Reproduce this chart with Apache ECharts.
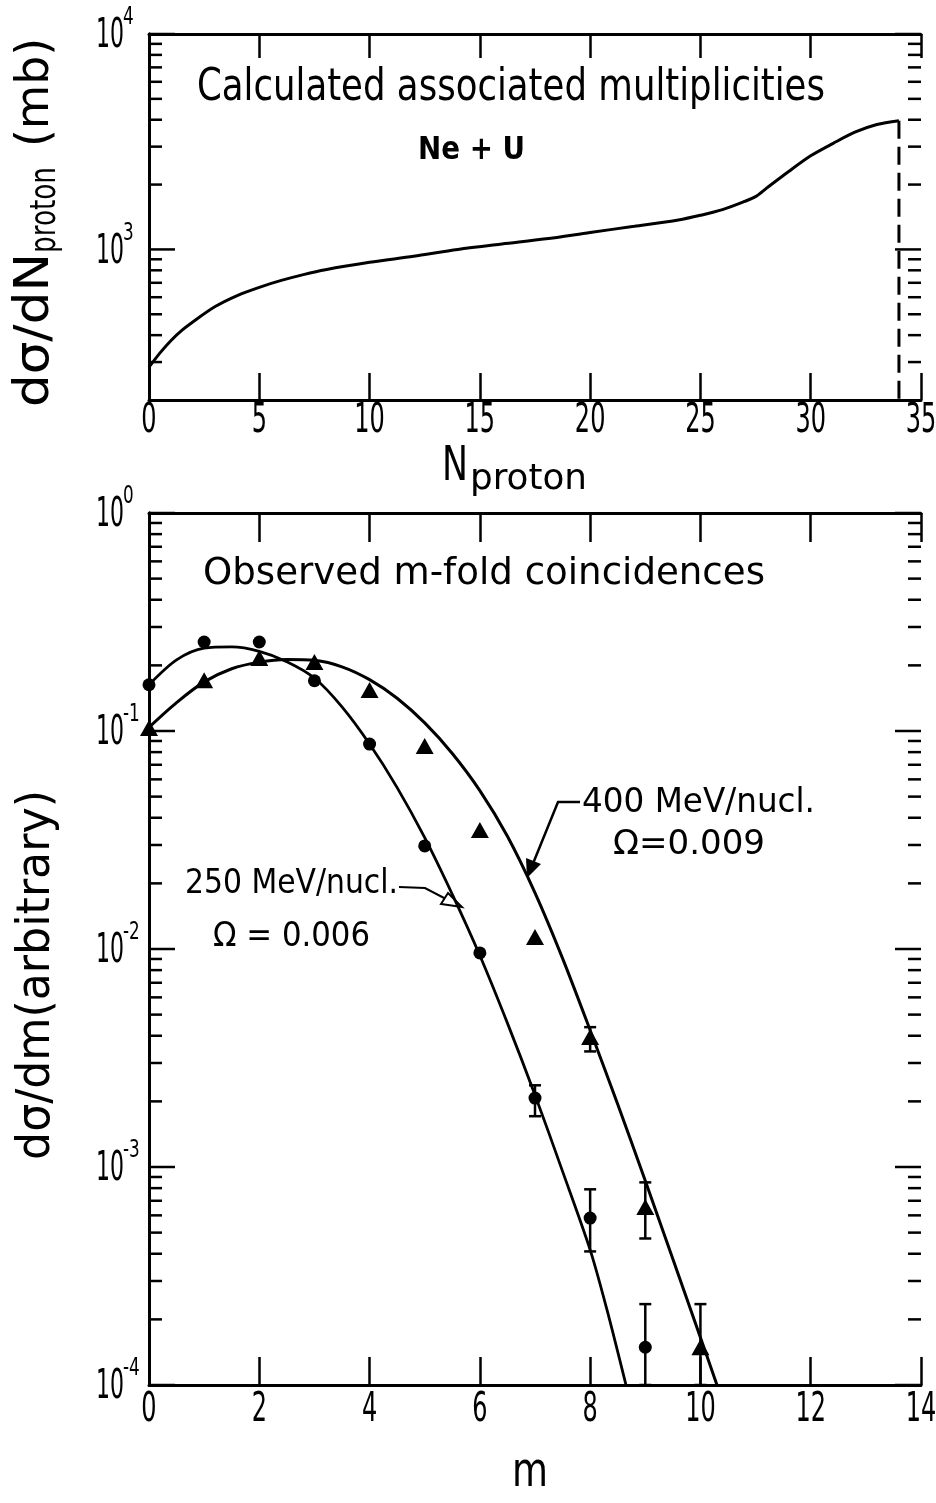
<!DOCTYPE html>
<html><head><meta charset="utf-8">
<script src="https://cdn.jsdelivr.net/npm/echarts@6/dist/echarts.min.js"></script>
<style>html,body{margin:0;padding:0;background:#fff}#c{width:936px;height:1503px}</style>
</head><body><div id="c"></div>
<script>
// ---------- Top panel: calculated associated multiplicities (Ne + U) ----------
const topN     = [0, 0.5, 1, 1.5, 2, 3, 4, 5, 6, 7, 8, 10, 12, 14, 16, 18, 20, 22, 24, 25, 26, 27, 27.5, 28, 29, 30, 31, 32, 33, 34];
const topSigma = [284, 331, 378, 422, 462, 543, 611, 667, 718, 764, 805, 871, 930, 1000, 1060, 1120, 1199, 1280, 1370, 1440, 1530, 1670, 1758, 1925, 2300, 2720, 3100, 3500, 3800, 3960];
const topCutoffN = 34;
const topXTicks  = [0, 5, 10, 15, 20, 25, 30, 35];
const topYTicks  = [300, 400, 500, 600, 700, 800, 900, 1000, 2000, 3000, 4000, 5000, 6000, 7000, 8000, 9000, 10000];
const topYLabels = [1000, 10000];

// ---------- Bottom panel: observed m-fold coincidences ----------
const mFit250 = [0, 0.5, 1, 1.5, 2, 2.5, 3, 3.5, 4, 4.5, 5, 5.5, 6, 6.5, 7, 7.5, 8, 8.3, 8.65];
const fit250  = [0.163, 0.212, 0.240, 0.243, 0.232, 0.208, 0.175, 0.129, 0.0871, 0.055, 0.0324, 0.0178, 0.00933, 0.00457, 0.00214, 0.000955, 0.000417, 0.000224, 0.0001];
const mFit400 = [0, 0.5, 1, 1.5, 2, 2.5, 3, 3.5, 4, 4.5, 5, 5.5, 6, 6.5, 7, 7.5, 8, 8.5, 9, 9.5, 10, 10.3];
const fit400  = [0.104, 0.135, 0.168, 0.193, 0.207, 0.213, 0.211, 0.197, 0.172, 0.1413, 0.1089, 0.0789, 0.0533, 0.0329, 0.0181, 0.00906, 0.00424, 0.00194, 0.000865, 0.000378, 0.000165, 0.0001];

const mObs250 = [0, 1, 2, 3, 4, 5, 6, 7, 8, 9];
const obs250  = [0.163, 0.256, 0.256, 0.170, 0.0871, 0.0297, 0.00959, 0.00207, 0.000583, 0.000149];
const mObs400 = [0, 1, 2, 3, 4, 5, 6, 7, 8, 9, 10];
const obs400  = [0.1032, 0.171, 0.216, 0.207, 0.154, 0.0853, 0.0351, 0.01135, 0.00395, 0.000656, 0.000149];

const errM250  = [7, 8, 9];
const errLo250 = [0.00171, 0.00041, 0.0001];
const errHi250 = [0.00237, 0.00079, 0.000235];
const errM400  = [8, 9, 10];
const errLo400 = [0.00339, 0.00047, 0.0001];
const errHi400 = [0.00438, 0.00085, 0.000235];

const botXTicks  = [0, 2, 4, 6, 8, 10, 12, 14];
const botYTicks  = [1, 0.9, 0.8, 0.7, 0.6, 0.5, 0.4, 0.3, 0.2,
                    0.1, 0.09, 0.08, 0.07, 0.06, 0.05, 0.04, 0.03, 0.02,
                    0.01, 0.009, 0.008, 0.007, 0.006, 0.005, 0.004, 0.003, 0.002,
                    0.001, 0.0009, 0.0008, 0.0007, 0.0006, 0.0005, 0.0004, 0.0003, 0.0002, 0.0001];
const botYLabels = [1, 0.1, 0.01, 0.001, 0.0001];

// ---------- helpers ----------
const FAM = '"DejaVu Sans", sans-serif';
const mctx = document.createElement('canvas').getContext('2d');
function measure(t, font) { mctx.font = font; return mctx.measureText(t).width; }
function fitText(t, size, x, y, w, opt) {
  opt = opt || {};
  const font = (opt.bold ? 'bold ' : '') + size + 'px ' + FAM;
  const sx = w / measure(t, font);
  return { type: 'text', x: x, y: y, scaleX: sx,
    style: { text: t, font: font, fill: '#000', align: 'left', textAlign: 'left', verticalAlign: 'middle', textVerticalAlign: 'middle' } };
}
const zip = (a, b) => a.map((v, i) => [v, b[i]]);
const isMajor = v => Math.abs(Math.log10(v) - Math.round(Math.log10(v))) < 1e-6;

function yTickRenderer(labels) {
  return function (params, api) {
    const v = api.value(1);
    const cs = params.coordSys;
    const py = api.coord([api.value(0), v])[1];
    const maj = isMajor(v);
    const len = maj ? 26 : 13;
    const L = cs.x, R = cs.x + cs.width;
    const ls = { stroke: '#000', lineWidth: 2.5 };
    const ch = [
      { type: 'line', shape: { x1: L, y1: py, x2: L + len, y2: py }, style: ls },
      { type: 'line', shape: { x1: R - len, y1: py, x2: R, y2: py }, style: ls }
    ];
    if (labels.some(l => Math.abs(l - v) / l < 1e-6)) {
      const e = Math.round(Math.log10(v));
      ch.push({ type: 'text', x: L - 25, y: py + 3, scaleX: 0.55,
        style: { text: '10', font: '40px ' + FAM, fill: '#000', align: 'right', textAlign: 'right', verticalAlign: 'middle', textVerticalAlign: 'middle' } });
      ch.push({ type: 'text', x: L - 26, y: py - 16, scaleX: 0.7,
        style: { text: String(e), font: '24px ' + FAM, fill: '#000', align: 'left', textAlign: 'left', verticalAlign: 'middle', textVerticalAlign: 'middle' } });
    }
    return { type: 'group', children: ch };
  };
}
function xLabelRenderer(off) {
  return function (params, api) {
    const cs = params.coordSys;
    const px = api.coord([api.value(0), api.value(1)])[0];
    return { type: 'text', x: px, y: cs.y + cs.height + off, scaleX: 0.6,
      style: { text: String(api.value(0)), font: '40px ' + FAM, fill: '#000', align: 'center', textAlign: 'center', verticalAlign: 'middle', textVerticalAlign: 'middle' } };
  };
}
function errRenderer(params, api) {
  const m = api.value(0);
  const pLo = api.coord([m, api.value(1)]), pHi = api.coord([m, api.value(2)]);
  const w = 6, s = { stroke: '#000', lineWidth: 2.5 };
  return { type: 'group', children: [
    { type: 'line', shape: { x1: pLo[0], y1: pLo[1], x2: pHi[0], y2: pHi[1] }, style: s },
    { type: 'line', shape: { x1: pHi[0] - w, y1: pHi[1], x2: pHi[0] + w, y2: pHi[1] }, style: s },
    { type: 'line', shape: { x1: pLo[0] - w, y1: pLo[1], x2: pLo[0] + w, y2: pLo[1] }, style: s }
  ] };
}

const axLine = { show: true, lineStyle: { color: '#000', width: 3 } };
function xAx(grid, max, interval, pos, tickLen) {
  return { gridIndex: grid, type: 'value', min: 0, max: max, interval: interval, position: pos,
    axisLine: axLine, axisTick: { show: true, inside: true, length: tickLen, lineStyle: { color: '#000', width: 2.5 } },
    axisLabel: { show: false }, splitLine: { show: false } };
}
function yAx(grid, min, max, pos) {
  return { gridIndex: grid, type: 'log', logBase: 10, min: min, max: max, position: pos,
    axisLine: axLine, axisTick: { show: false }, axisLabel: { show: false }, splitLine: { show: false } };
}

const chart = echarts.init(document.getElementById('c'), null, { renderer: 'canvas' });
const option = {
  backgroundColor: '#fff',
  animation: false,
  grid: [
    { left: 149, top: 34, width: 772, height: 366 },
    { left: 149, top: 513, width: 772, height: 872 }
  ],
  xAxis: [ xAx(0, 35, 5, 'bottom', 27), xAx(0, 35, 5, 'top', 24), xAx(1, 14, 2, 'bottom', 28), xAx(1, 14, 2, 'top', 29) ],
  yAxis: [ yAx(0, 200, 10000, 'left'), yAx(0, 200, 10000, 'right'), yAx(1, 0.0001, 1, 'left'), yAx(1, 0.0001, 1, 'right') ],
  series: [
    { type: 'custom', xAxisIndex: 0, yAxisIndex: 0, renderItem: yTickRenderer(topYLabels), data: topYTicks.map(v => [0, v]), encode: { x: 0, y: 1 }, silent: true },
    { type: 'custom', xAxisIndex: 0, yAxisIndex: 0, renderItem: xLabelRenderer(22), data: topXTicks.map(v => [v, 200]), encode: { x: 0, y: 1 }, silent: true },
    { type: 'line', xAxisIndex: 0, yAxisIndex: 0, data: zip(topN, topSigma), smooth: 0.3, showSymbol: false, symbol: 'none',
      lineStyle: { color: '#000', width: 3 } },
    { type: 'line', xAxisIndex: 0, yAxisIndex: 0, data: [[topCutoffN, topSigma[topSigma.length - 1]], [topCutoffN, 200]], showSymbol: false, symbol: 'none',
      lineStyle: { color: '#000', width: 3, type: [18, 8] } },

    { type: 'custom', xAxisIndex: 2, yAxisIndex: 2, renderItem: yTickRenderer(botYLabels), data: botYTicks.map(v => [0, v]), encode: { x: 0, y: 1 }, silent: true },
    { type: 'custom', xAxisIndex: 2, yAxisIndex: 2, renderItem: xLabelRenderer(26), data: botXTicks.map(v => [v, 0.0001]), encode: { x: 0, y: 1 }, silent: true },
    { type: 'line', xAxisIndex: 2, yAxisIndex: 2, data: zip(mFit250, fit250), smooth: 0.3, showSymbol: false, symbol: 'none',
      lineStyle: { color: '#000', width: 2.8 } },
    { type: 'line', xAxisIndex: 2, yAxisIndex: 2, data: zip(mFit400, fit400), smooth: 0.3, showSymbol: false, symbol: 'none',
      lineStyle: { color: '#000', width: 3 } },
    { type: 'custom', xAxisIndex: 2, yAxisIndex: 2, renderItem: errRenderer, encode: { x: 0, y: [1, 2] },
      data: errM250.map((m, i) => [m, errLo250[i], errHi250[i]]).concat(errM400.map((m, i) => [m, errLo400[i], errHi400[i]])) },
    { type: 'scatter', xAxisIndex: 2, yAxisIndex: 2, data: zip(mObs250, obs250), symbol: 'circle', symbolSize: 13,
      itemStyle: { color: '#000', opacity: 1 }, z: 5 },
    { type: 'scatter', xAxisIndex: 2, yAxisIndex: 2, data: zip(mObs400, obs400), symbol: 'triangle', symbolSize: [18, 16],
      itemStyle: { color: '#000', opacity: 1 }, z: 5 }
  ],
  graphic: { elements: [
    fitText('Calculated associated multiplicities', 44, 197, 89, 628),
    fitText('Ne + U', 32, 418, 151, 107, { bold: true }),
    fitText('N', 48, 442, 468, 26),
    fitText('proton', 36, 470, 480, 117),
    { type: 'group', x: 36, y: 407, rotation: Math.PI / 2, children: [
      fitText('dσ/dN', 48, 0, 0, 154),
      fitText('proton', 36, 154, 10, 86),
      fitText('(mb)', 46, 260, 0, 109)
    ] },
    fitText('Observed m-fold coincidences', 38, 203, 574, 562),
    fitText('400 MeV/nucl.', 34, 582, 803, 233),
    fitText('Ω=0.009', 34, 613, 845, 152),
    fitText('250 MeV/nucl.', 34, 185, 884, 213),
    fitText('Ω = 0.006', 34, 213, 937, 157),
    { type: 'group', x: 37, y: 1160, rotation: Math.PI / 2, children: [
      fitText('dσ/dm(arbitrary)', 46, 0, 0, 370)
    ] },
    fitText('m', 48, 512, 1474, 36),
    { type: 'polyline', shape: { points: [[580, 802], [558, 802], [532, 866]] }, style: { stroke: '#000', lineWidth: 2.5, fill: null } },
    { type: 'polygon', shape: { points: [[527, 878], [526, 858], [541, 864]] }, style: { fill: '#000' } },
    { type: 'polyline', shape: { points: [[399, 887], [425, 888], [446, 899]] }, style: { stroke: '#000', lineWidth: 2, fill: null } },
    { type: 'polygon', shape: { points: [[462, 907], [441, 904], [448, 893]] }, style: { fill: '#fff', stroke: '#000', lineWidth: 2 } }
  ] }
};
chart.setOption(option);
</script>
</body></html>
